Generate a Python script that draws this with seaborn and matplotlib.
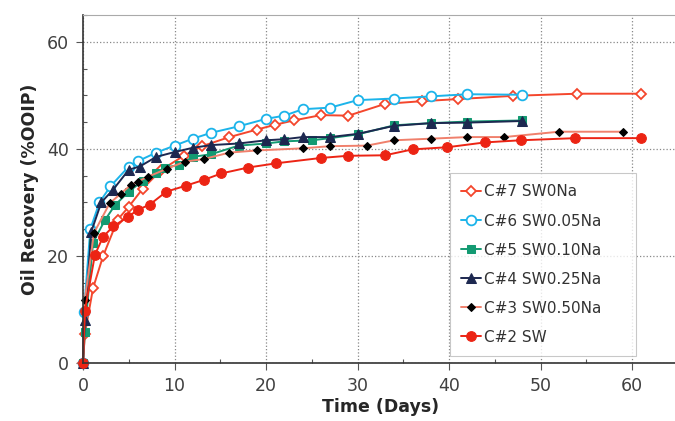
import matplotlib
matplotlib.use("Agg")
import matplotlib.pyplot as plt
import seaborn as sns
from matplotlib.ticker import MultipleLocator

# C#7 SW0Na
c7_days = [0, 0.2, 1.1, 2.2, 3.8, 5, 6.5, 8.5, 11, 13, 16, 19, 21, 23, 26, 29, 33, 37, 41, 47, 54, 61]
c7_rec = [0, 5.4, 14, 20, 26.8, 29.2, 32.5, 36, 38.7, 40.5, 42.2, 43.6, 44.5, 45.3, 46.3, 46.2, 48.4, 48.9, 49.3, 49.9, 50.3, 50.3]
# C#6 SW0.05Na
c6_days = [0, 0.1, 0.8, 1.8, 3, 5, 6, 8, 10, 12, 14, 17, 20, 22, 24, 27, 30, 34, 38, 42, 48]
c6_rec = [0, 9.5, 25, 30, 33, 36.7, 37.7, 39.3, 40.6, 41.9, 43, 44.2, 45.6, 46.2, 47.4, 47.7, 49.1, 49.4, 49.8, 50.2, 50.1]
# C#5 SW0.10Na
c5_days = [0, 0.2, 1.1, 2.4, 3.5, 5, 6.5, 8, 9, 10.5, 12, 14, 17, 20, 22, 25, 27, 30, 34, 38, 42, 48]
c5_rec = [0, 5.8, 22.5, 26.7, 29.5, 32, 34, 35.5, 36.5, 37, 38.5, 39, 40.6, 41, 41.4, 41.6, 42, 42.7, 44.4, 44.8, 45.1, 45.3]
# C#4 SW0.25Na
c4_days = [0, 0.2, 0.9, 2, 3.3, 5, 6.2, 8, 10, 12, 14, 17, 20, 22, 24, 27, 30, 34, 38, 42, 48]
c4_rec = [0, 8, 24.5, 30, 32.4, 36.1, 36.7, 38.5, 39.4, 40.2, 40.7, 41, 41.6, 41.8, 42.2, 42.2, 42.8, 44.3, 44.8, 44.9, 45.2]
# C#3 SW0.50Na
c3_days = [0, 0.2, 1.2, 2.9, 4.1, 5.2, 6, 7.1, 9.2, 11.1, 13.2, 16, 19, 24, 27, 31, 34, 38, 42, 46, 52, 59]
c3_rec = [0, 11.8, 24.3, 29.8, 31.6, 33.2, 33.9, 34.8, 36.3, 37.6, 38.1, 39.3, 39.7, 40.1, 40.5, 40.6, 41.6, 41.9, 42.2, 42.2, 43.2, 43.2]
# C#2 SW
c2_days = [0, 0.2, 1.3, 2.2, 3.3, 4.9, 6, 7.3, 9.1, 11.2, 13.2, 15.1, 18, 21.1, 26, 28.9, 33, 36, 39.8, 43.9, 47.8, 53.8, 61]
c2_rec = [0, 9.7, 20.2, 23.6, 25.5, 27.3, 28.6, 29.6, 32, 33.1, 34.2, 35.4, 36.5, 37.3, 38.3, 38.7, 38.8, 39.9, 40.3, 41.2, 41.6, 42, 42]

series = [
    ("C#7 SW0Na", c7_days, c7_rec, dict(color="#f4462c", marker="D", markersize=5, markerfacecolor="white",
                                          markeredgecolor="#f4462c", markeredgewidth=1.3)),
    ("C#6 SW0.05Na", c6_days, c6_rec, dict(color="#1cb4ea", marker="o", markersize=7, markerfacecolor="white",
                                             markeredgecolor="#1cb4ea", markeredgewidth=1.3)),
    ("C#5 SW0.10Na", c5_days, c5_rec, dict(color="#139a72", marker="s", markersize=6, markerfacecolor="#139a72",
                                             markeredgecolor="#139a72")),
    ("C#4 SW0.25Na", c4_days, c4_rec, dict(color="#1d2850", marker="^", markersize=6.5, markerfacecolor="#1d2850",
                                             markeredgecolor="#1d2850")),
    ("C#3 SW0.50Na", c3_days, c3_rec, dict(color="#f0806c", marker="D", markersize=4.5, markerfacecolor="black",
                                             markeredgecolor="black")),
    ("C#2 SW", c2_days, c2_rec, dict(color="#ec2414", marker="o", markersize=7, markerfacecolor="#ec2414",
                                       markeredgecolor="#ec2414")),
]

sns.set_style("white")
plt.rcParams["font.family"] = ["DejaVu Sans"]

fig = plt.figure(figsize=(6.75, 4.21), dpi=100)
ax = fig.add_axes([83 / 675, 1 - 363 / 421, 595 / 675, 348 / 421])

for label, days, rec, style in series:
    sns.lineplot(x=days, y=rec, ax=ax, label=label, sort=False, estimator=None, linewidth=1.4,
                 clip_on=False, **style)

ax.set_xlim(0, 65)
ax.set_ylim(0, 65)
ax.xaxis.set_major_locator(MultipleLocator(10))
ax.xaxis.set_minor_locator(MultipleLocator(5))
ax.yaxis.set_major_locator(MultipleLocator(20))
ax.yaxis.set_minor_locator(MultipleLocator(5))
ax.grid(True, which="major", linestyle=":", color="#888888", linewidth=0.9)
ax.tick_params(which="major", direction="out", length=5, width=0.8, color="#555555",
               labelsize=12.5, labelcolor="#404040", left=True, bottom=True, pad=5)
ax.tick_params(which="minor", direction="in", length=3, width=0.8, color="#555555", left=True, bottom=True)

for side in ["left", "bottom"]:
    ax.spines[side].set_color("#333333")
    ax.spines[side].set_linewidth(1.2)
ax.spines["top"].set_color("#aaaaaa")
ax.spines["right"].set_visible(False)

ax.set_xlabel("Time (Days)", fontsize=12.5, fontweight="bold", labelpad=2)
ax.set_ylabel("Oil Recovery (%OOIP)", fontsize=12.5, fontweight="bold", labelpad=6)

leg = ax.legend(loc="upper left", mode="expand",
                bbox_to_anchor=(450 / 675, 1 - 353 / 421, 186 / 675, 180 / 421), bbox_transform=fig.transFigure,
                fontsize=11, labelspacing=0.92, handlelength=1.3, handletextpad=0.15, borderpad=0.75,
                borderaxespad=0, frameon=True, fancybox=False, edgecolor="#bbbbbb")
leg.get_frame().set_linewidth(0.8)
for txt in leg.get_texts():
    txt.set_color("#333333")

fig.savefig("out.png", dpi=100)
